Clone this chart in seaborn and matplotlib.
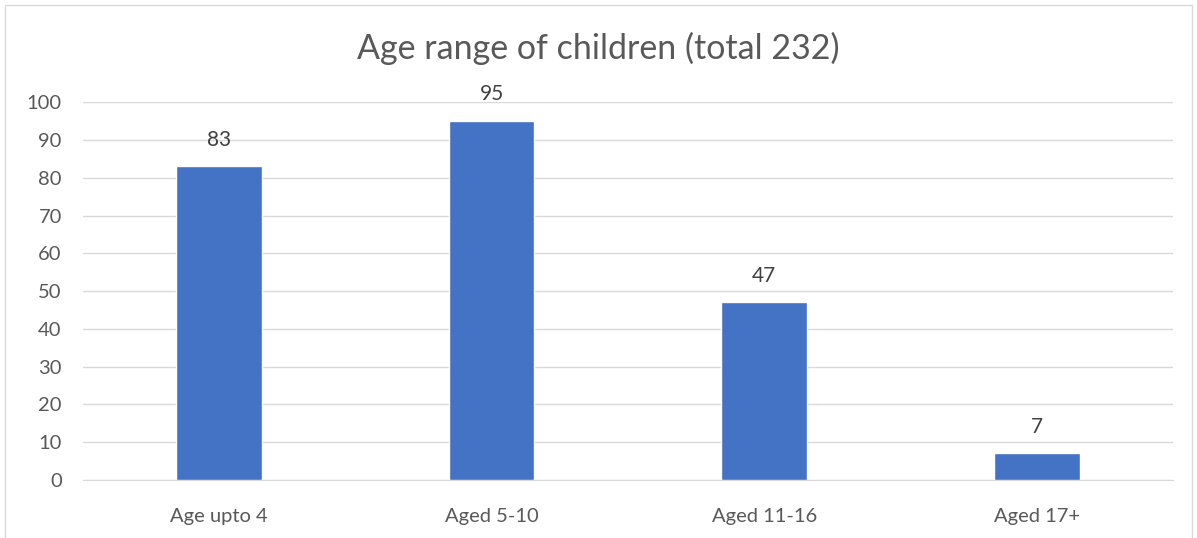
import matplotlib.pyplot as plt
import seaborn as sns
import pandas as pd
from matplotlib.patches import Rectangle

# chart data
age_groups = ["Age upto 4", "Aged 5-10", "Aged 11-16", "Aged 17+"]
child_counts = [83, 95, 47, 7]

sns.set_style("white")
plt.rcParams['font.family'] = ['Lato', 'DejaVu Sans']

df = pd.DataFrame({"group": age_groups, "count": child_counts})

fig = plt.figure(figsize=(11.97, 5.38), dpi=100)
ax = fig.add_axes([0.069, 0.108, 0.911, 0.702])

sns.barplot(data=df, x="group", y="count", ax=ax, color="#4472C4",
            width=0.315, saturation=1, zorder=3)

ax.set_ylim(0, 100)
ax.set_xlim(-0.5, 3.5)
ax.set_yticks(range(0, 101, 10))
ax.yaxis.grid(True, color="#D9D9D9", linewidth=1, zorder=0)
ax.set_axisbelow(True)
ax.set_xlabel("")
ax.set_ylabel("")
ax.tick_params(axis="both", length=0, labelsize=14.5, colors="#595959")
ax.tick_params(axis="x", pad=20)
ax.tick_params(axis="y", pad=15)

for side in ["top", "right", "left"]:
    ax.spines[side].set_visible(False)
ax.spines["bottom"].set_color("#D9D9D9")

# value labels above bars
for container in ax.containers:
    ax.bar_label(container, padding=12, fontsize=15, color="#404040")

fig.suptitle("Age range of children (total 232)", y=0.94, fontsize=24.5,
             color="#595959")

# light frame around the chart area
fig.patches.append(Rectangle((0.004, -0.01), 0.992, 1.0, transform=fig.transFigure,
                             fill=False, edgecolor="#D9D9D9", linewidth=1))

fig.savefig("out.png", dpi=100)
